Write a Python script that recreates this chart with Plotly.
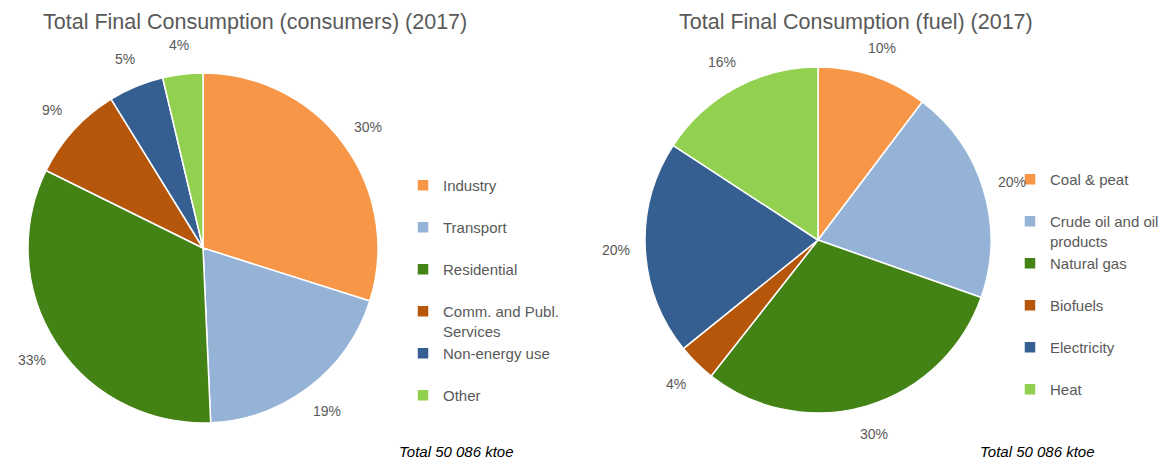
import numpy as np
import plotly.graph_objects as go

consumers = ["Industry", "Transport", "Residential", "Comm. and Publ.<br>Services", "Non-energy use", "Other"]
consumers_share = [29.9, 19.4, 33.0, 8.9, 5.1, 3.7]

fuels = ["Coal & peat", "Crude oil and oil<br>products", "Natural gas", "Biofuels", "Electricity", "Heat"]
fuels_share = [10.3, 20.1, 30.2, 3.6, 20.0, 15.8]

colors = ["#F79646", "#95B3D7", "#438214", "#B5560A", "#355F91", "#92D050"]

title_left = "Total Final Consumption (consumers) (2017)"
title_right = "Total Final Consumption (fuel) (2017)"
total_note = "Total 50 086 ktoe"

# the page body has an 8px margin, so the figure is a bit smaller than the window
OFF = 8
W, H = 1169 - OFF, 459 - OFF
grey = "#595959"
font = "Liberation Sans, Arial, sans-serif"


def px(x):
    return (x - OFF) / W


def py(y):
    return 1 - (y - OFF) / H


def legend_labels(labels):
    # every legend entry takes two lines, like the original
    return [l if "<br>" in l else l + "<br> " for l in labels]


def pct_labels(values, cx, cy, r):
    # percentage labels placed just outside the slice middles (page pixels)
    v = np.array(values, dtype=float)
    frac = v / v.sum()
    mid = (np.cumsum(frac) - frac / 2) * 2 * np.pi
    out = []
    for f, a in zip(frac, mid):
        x = cx + 1.17 * r * np.sin(a)
        y = cy - 1.17 * r * np.cos(a)
        out.append(dict(text=f"{f * 100:.0f}%", x=px(x), y=py(y), xref="paper", yref="paper",
                        showarrow=False, xanchor="center", yanchor="middle",
                        font=dict(size=14, color=grey)))
    return out


def domain(cx, cy, r):
    return dict(x=[px(cx - r), px(cx + r)], y=[py(cy + r), py(cy - r)])


fig = go.Figure()

fig.add_trace(go.Pie(
    labels=legend_labels(consumers), values=consumers_share,
    sort=False, direction="clockwise", rotation=0,
    marker=dict(colors=colors, line=dict(color="white", width=1.5)),
    textinfo="none",
    domain=domain(203, 248, 175),
    legend="legend",
))

fig.add_trace(go.Pie(
    labels=legend_labels(fuels), values=fuels_share,
    sort=False, direction="clockwise", rotation=0,
    marker=dict(colors=colors, line=dict(color="white", width=1.5)),
    textinfo="none",
    domain=domain(818, 240, 173),
    legend="legend2",
))

legend_style = dict(
    font=dict(size=15, color=grey, family=font),
    valign="top", itemwidth=30, bgcolor="rgba(0,0,0,0)",
    xanchor="left", yanchor="top",
)

annotations = [
    dict(text=title_left, x=px(255), y=py(22), font=dict(size=21.5, color=grey)),
    dict(text=title_right, x=px(856), y=py(22), font=dict(size=21.5, color=grey)),
    dict(text="<i>" + total_note + "</i>", x=px(456), y=py(451), font=dict(size=15, color="#000000")),
    dict(text="<i>" + total_note + "</i>", x=px(1037), y=py(451), font=dict(size=15, color="#000000")),
]
for a in annotations:
    a.update(xref="paper", yref="paper", showarrow=False, xanchor="center", yanchor="middle")

annotations += pct_labels(consumers_share, 203, 248, 175)
annotations += pct_labels(fuels_share, 818, 240, 173)

fig.update_layout(
    width=W, height=H,
    margin=dict(l=0, r=0, t=0, b=0),
    paper_bgcolor="white", plot_bgcolor="white",
    font=dict(family=font, color=grey),
    legend=dict(x=px(403), y=py(169), **legend_style),
    legend2=dict(x=px(1010), y=py(163), **legend_style),
    annotations=annotations,
)

fig.write_html("out.html")
